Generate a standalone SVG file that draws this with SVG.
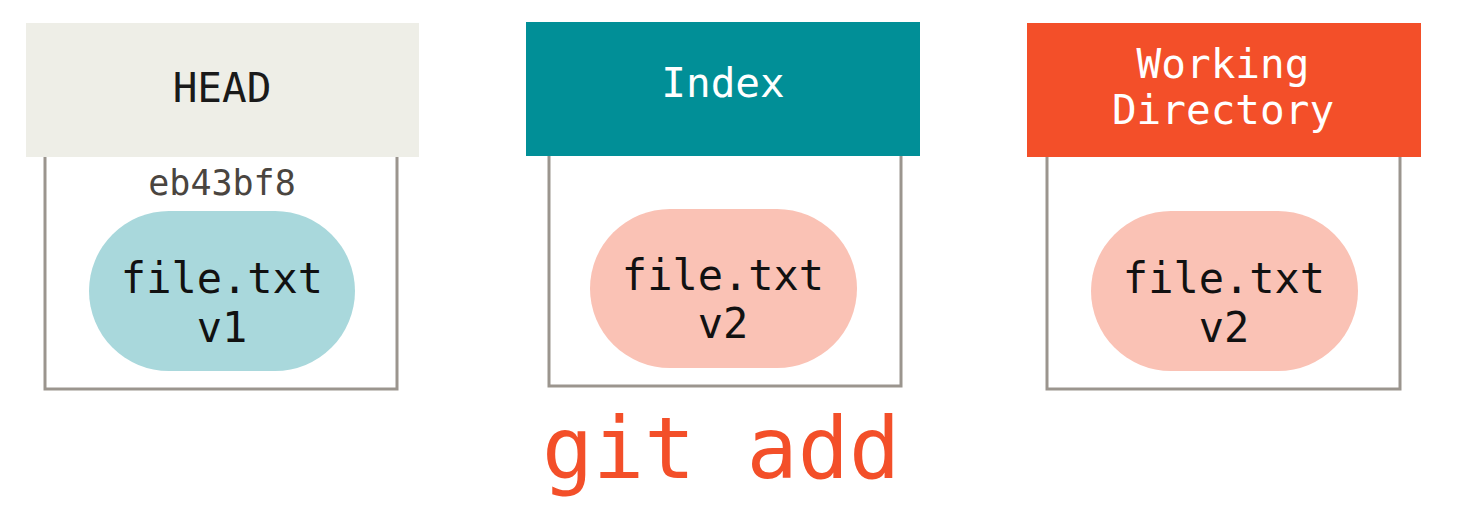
<svg xmlns="http://www.w3.org/2000/svg" width="1464" height="528" viewBox="0 0 1464 528">
<style>
  .frame { fill: #ffffff; stroke: #9b958e; stroke-width: 3; }
  .mono { font-family: "DejaVu Sans Mono", "Liberation Mono", monospace; text-anchor: middle; }
  .label { font-size: 41px; }
  .file { font-size: 42px; fill: #111111; }
  .hash { font-size: 35px; fill: #4a4540; }
  .cmd { font-size: 85px; fill: #f34f29; }
</style>
<rect width="1464" height="528" fill="#ffffff"/>
<g id="head">
  <rect class="frame" x="45" y="140" width="352" height="249"/>
  <rect x="26" y="23" width="393" height="134" fill="#eeeee7"/>
  <text class="mono label" x="222" y="102" fill="#1a1a1a">HEAD</text>
  <text class="mono hash" x="222" y="195">eb43bf8</text>
  <rect x="89" y="211" width="266" height="160" rx="80" ry="80" fill="#a9d8dc"/>
  <text class="mono file" x="222" y="293">file.txt</text>
  <text class="mono file" x="222" y="342">v1</text>
</g>
<g id="index">
  <rect class="frame" x="549" y="140" width="352" height="246"/>
  <rect x="526" y="22" width="394" height="134" fill="#018f97"/>
  <text class="mono label" x="723" y="97" fill="#ffffff">Index</text>
  <rect x="590" y="209" width="267" height="159" rx="80" ry="80" fill="#fac2b5"/>
  <text class="mono file" x="723" y="290">file.txt</text>
  <text class="mono file" x="723" y="338">v2</text>
</g>
<g id="working-directory">
  <rect class="frame" x="1047" y="140" width="353" height="249"/>
  <rect x="1027" y="23" width="394" height="134" fill="#f34f29"/>
  <text class="mono label" x="1223" y="78" fill="#ffffff">Working</text>
  <text class="mono label" x="1223" y="124" fill="#ffffff">Directory</text>
  <rect x="1091" y="211" width="267" height="160" rx="80" ry="80" fill="#fac2b5"/>
  <text class="mono file" x="1224" y="293">file.txt</text>
  <text class="mono file" x="1224" y="342">v2</text>
</g>
<g id="command">
  <text class="mono cmd" x="721" y="478">git add</text>
</g>
<g id="connectors"></g>
</svg>
